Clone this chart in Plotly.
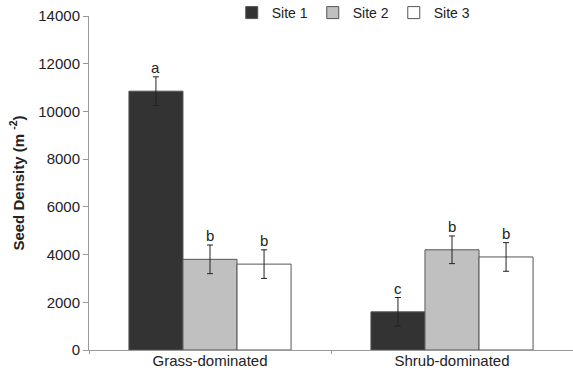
import plotly.graph_objects as go

categories = ["Grass-dominated", "Shrub-dominated"]
sites = ["Site 1", "Site 2", "Site 3"]
site1 = [10850, 1600]
site2 = [3800, 4200]
site3 = [3600, 3900]
site1_err = [600, 600]
site2_err = [600, 580]
site3_err = [600, 600]
site1_letters = ["a", "c"]
site2_letters = ["b", "b"]
site3_letters = ["b", "b"]
y_ticks = [0, 2000, 4000, 6000, 8000, 10000, 12000, 14000]

colors = ["#333333", "#c0c0c0", "#ffffff"]
values = [site1, site2, site3]
errors = [site1_err, site2_err, site3_err]
letters = [site1_letters, site2_letters, site3_letters]

FONT = "Liberation Sans, Arial, sans-serif"
bargap = 0.33

fig = go.Figure()
for name, col, vals, errs in zip(sites, colors, values, errors):
    fig.add_trace(go.Bar(
        x=categories, y=vals, name=name,
        marker=dict(color=col, line=dict(color="#555555", width=1)),
        error_y=dict(type="data", array=errs, visible=True,
                     color="#222222", thickness=1, width=3),
    ))

w = (1 - bargap) / 3
for j, (vals, errs, labs) in enumerate(zip(values, errors, letters)):
    for i in range(len(categories)):
        fig.add_annotation(
            x=i + (j - 1) * w, y=vals[i] + errs[i], xref="x", yref="y",
            text=labs[i], showarrow=False, yanchor="bottom", yshift=-1,
            font=dict(family=FONT, size=15, color="#222222"),
        )

fig.update_layout(
    width=573, height=372,
    margin=dict(l=89, r=0, t=16, b=22, autoexpand=False),
    paper_bgcolor="white", plot_bgcolor="white",
    barmode="group", bargap=bargap, bargroupgap=0,
    font=dict(family=FONT, size=13, color="#222222"),
    showlegend=True,
    legend=dict(orientation="h", x=0.547, y=1.009, xanchor="center", yanchor="middle",
                font=dict(family=FONT, size=14, color="#222222"),
                itemwidth=30, entrywidth=0, tracegroupgap=0, bgcolor="rgba(0,0,0,0)"),
    xaxis=dict(type="category", range=[-0.5, 1.5], showline=True, linecolor="#999999",
               linewidth=1, ticks="outside", tickson="boundaries", ticklen=3,
               tickcolor="#999999", showgrid=False, tickfont=dict(size=15),
               automargin=False, ticklabelstandoff=-3),
    yaxis=dict(range=[0, 14000], tickvals=y_ticks, tickformat="d", showline=True,
               linecolor="#999999", linewidth=1, ticks="outside", ticklen=5,
               tickcolor="#999999", showgrid=False, zeroline=False,
               tickfont=dict(size=15), automargin=False,
               title=dict(text="<b>Seed Density (m <sup>-2</sup>)</b>",
                          font=dict(size=15), standoff=10)),
)

fig.write_html("out.html", config={"displayModeBar": False},
               post_script="document.body.style.margin='0';document.body.style.overflow='hidden';")
